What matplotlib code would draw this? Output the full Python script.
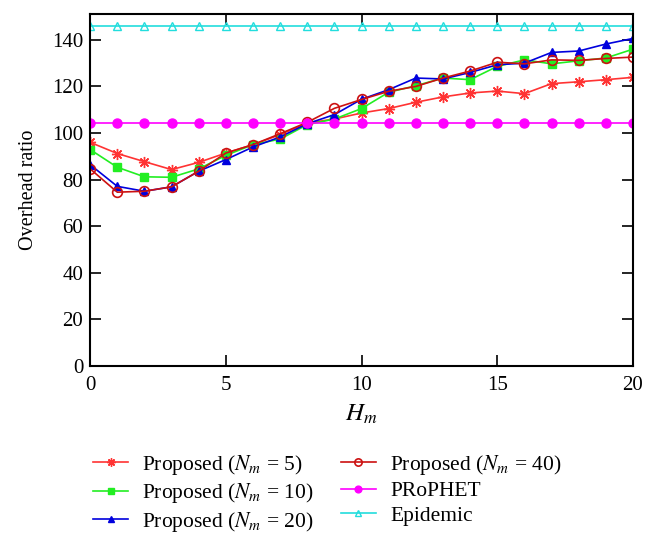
import numpy as np
import matplotlib.pyplot as plt

plt.rcParams['font.family'] = ['Liberation Serif', 'DejaVu Serif']
plt.rcParams['mathtext.fontset'] = 'stix'

# x axis: H_m
h_m = list(range(0, 21))

# overhead ratio per scheme
prop_n5 = [96.0, 91.2, 87.7, 84.3, 87.4, 91.4, 95.0, 99.3, 104.3, 106.0, 108.6,
           110.5, 113.2, 115.5, 117.2, 118.0, 116.9, 121.2, 122.0, 122.9, 123.9]
prop_n10 = [92.9, 85.3, 81.2, 81.0, 84.6, 90.4, 95.0, 97.4, 103.6, 106.0, 110.5,
            117.5, 120.3, 123.6, 122.9, 128.6, 131.4, 129.7, 131.0, 132.2, 136.0]
prop_n20 = [86.4, 77.1, 75.0, 76.9, 83.6, 88.6, 94.0, 98.3, 104.0, 107.9, 114.5,
            118.6, 123.6, 123.2, 126.0, 129.3, 130.0, 134.6, 135.2, 138.2, 140.6]
prop_n40 = [84.6, 74.6, 75.0, 76.9, 83.6, 91.4, 95.0, 99.7, 104.6, 110.6, 114.4,
            117.9, 120.0, 123.6, 126.6, 130.4, 129.7, 131.4, 131.2, 132.0, 132.6]
prophet = [104.3] * 21
epidemic = [146.0] * 21

fig = plt.figure(figsize=(6.58, 5.47), dpi=100)
ax = fig.add_axes([0.137, 0.331, 0.825, 0.643])

ax.plot(h_m, prop_n5, '-', color='#ff3333', marker=(8, 2, 0), ms=8, mew=1.0,
        lw=1.2, label='Proposed ($N_m$ = 5)')
ax.plot(h_m, prop_n10, '-', color='#22ee22', marker='s', ms=5.5,
        lw=1.2, label='Proposed ($N_m$ = 10)')
ax.plot(h_m, prop_n20, '-', color='#0000dd', marker='^', ms=6,
        lw=1.2, label='Proposed ($N_m$ = 20)')
ax.plot(h_m, prop_n40, '-', color='#cc1111', marker='o', ms=7, mfc='none',
        mew=1.2, lw=1.2, label='Proposed ($N_m$ = 40)')
ax.plot(h_m, prophet, '-', color='#ff00ff', marker='o', ms=6.5,
        lw=1.2, label='PRoPHET')
ax.plot(h_m, epidemic, '-', color='#22dddd', marker='^', ms=6, mfc='none',
        mew=1.0, lw=1.2, label='Epidemic')

ax.set_xlim(0, 20)
ax.set_ylim(0, 151)
ax.set_xticks([0, 5, 10, 15, 20])
ax.set_yticks(range(0, 141, 20))
ax.tick_params(direction='in', length=8, width=1.2, top=True, right=True,
               labelsize=15)
ax.tick_params(axis='x', pad=7)
ax.tick_params(axis='y', pad=5)
for sp in ax.spines.values():
    sp.set_linewidth(1.5)

ax.set_xlabel('$H_m$', fontsize=18, labelpad=6)
ax.set_ylabel('Overhead ratio', fontsize=14.5, labelpad=10)

fig.legend(loc='upper left', bbox_to_anchor=(0.141, 0.172), ncol=2,
           frameon=False, fontsize=15.5, handlelength=1.65, columnspacing=1.25,
           handletextpad=0.65, labelspacing=0.2, borderpad=0, borderaxespad=0,
           markerscale=0.75)

fig.savefig('out.png', dpi=100)
